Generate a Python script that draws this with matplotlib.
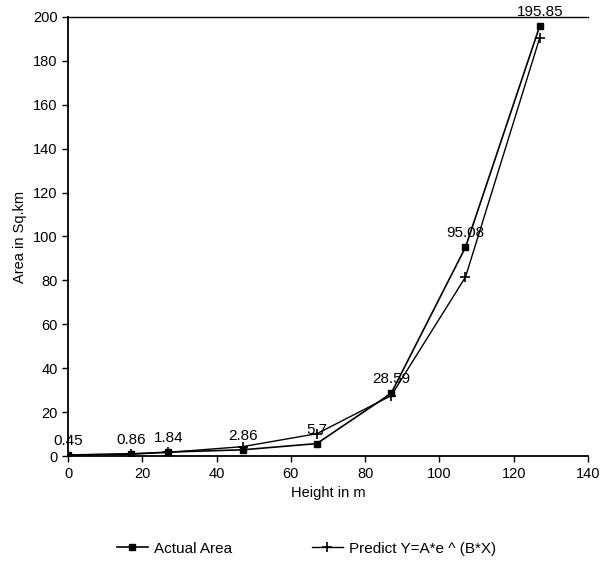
import matplotlib
matplotlib.use("Agg")
import matplotlib.pyplot as plt

heights = [0, 17, 27, 47, 67, 87, 107, 127]
actual_area = [0.45, 0.86, 1.84, 2.86, 5.7, 28.59, 95.08, 195.85]
predicted_area = [0.55, 1.1, 1.7, 4.3, 10.2, 27.5, 81.5, 190.5]
point_labels = ["0.45", "0.86", "1.84", "2.86", "5.7", "28.59", "95.08", "195.85"]
x_ticks = [0, 20, 40, 60, 80, 100, 120, 140]
y_ticks = [0, 20, 40, 60, 80, 100, 120, 140, 160, 180, 200]

plt.rcParams['font.family'] = ['Liberation Sans', 'DejaVu Sans']

fig = plt.figure(figsize=(6.04, 5.61), dpi=100)
ax = fig.add_axes([0.1126, 0.187, 0.861, 0.783])

ax.plot(heights, actual_area, color='black', lw=1.2, marker='s', ms=5,
        label='Actual Area')
ax.plot(heights, predicted_area, color='black', lw=1.0, marker='+', ms=7,
        mew=1.2, label='Predict Y=A*e ^ (B*X)')

for x, y, t in zip(heights, actual_area, point_labels):
    ax.annotate(t, (x, y), xytext=(0, 5), textcoords='offset points',
                ha='center', va='bottom', fontsize=11)

ax.set_xlim(0, 140)
ax.set_ylim(0, 200)
ax.set_xticks(x_ticks)
ax.set_yticks(y_ticks)
ax.tick_params(labelsize=10.5, direction='out', length=4, width=1)
ax.spines['right'].set_visible(False)
ax.spines['top'].set_linewidth(1.0)
ax.spines['left'].set_linewidth(1.3)
ax.spines['bottom'].set_linewidth(1.3)
ax.set_xlabel('Height in m', fontsize=10.5)
ax.set_ylabel('Area in Sq.km', fontsize=10.5)

fig.legend(loc='lower center', bbox_to_anchor=(0.508, -0.015), ncol=2,
           frameon=False, fontsize=11, columnspacing=5.2, handlelength=2.0,
           handletextpad=0.45)

fig.savefig('out.png', dpi=100)
